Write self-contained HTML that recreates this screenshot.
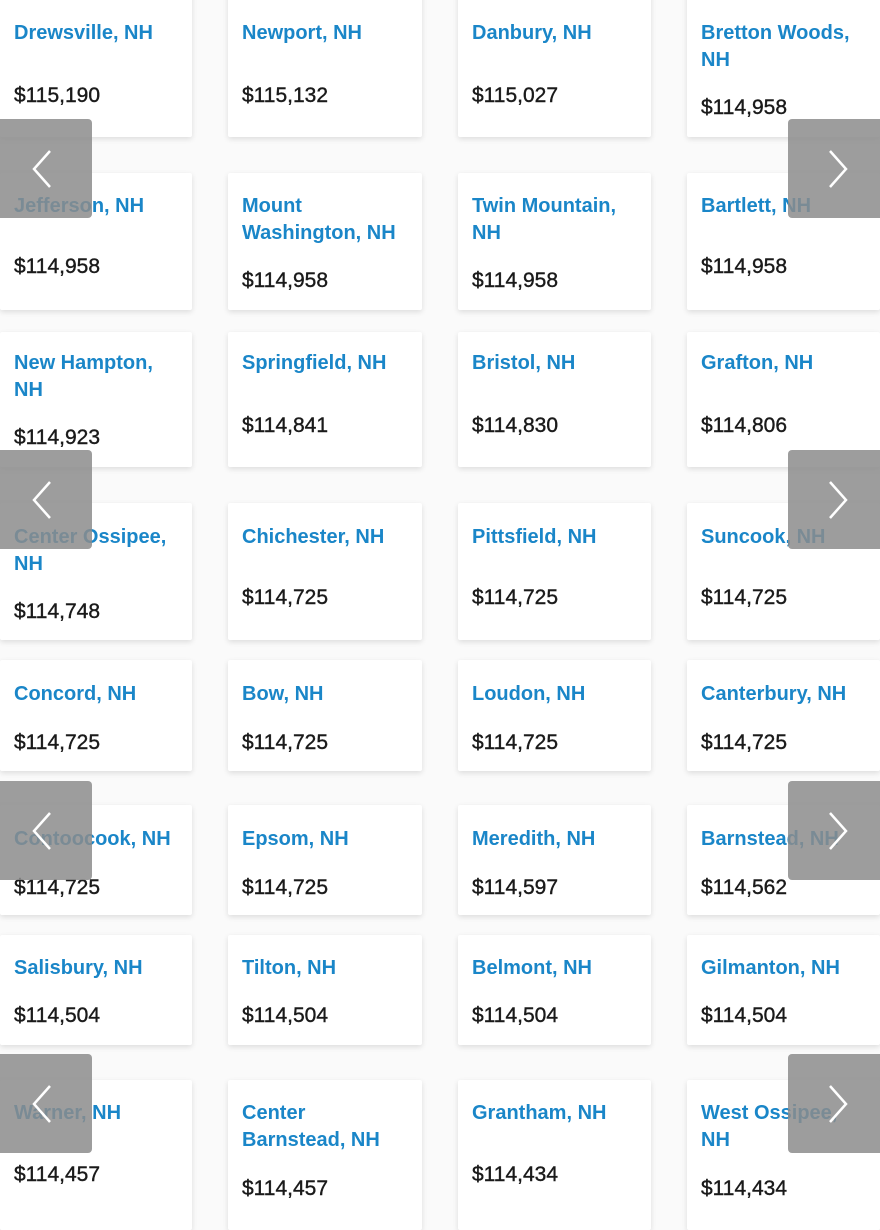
<!DOCTYPE html>
<html><head><style>
body{margin:0;width:880px;height:1218px;background:#fafafa;position:relative;overflow:hidden;font-family:"Liberation Sans",sans-serif}
.c{position:absolute;background:#fff;box-shadow:0 2px 6px rgba(0,0,0,.12);border-radius:2px}
.t{position:absolute;left:14px;color:#1a86c8;font-weight:bold;font-size:20px;line-height:27px;white-space:nowrap}
.p{position:absolute;left:14px;color:#1a1a1a;font-size:21px;line-height:24px;font-weight:normal;-webkit-text-stroke:0.4px #1a1a1a}
.b{position:absolute;width:92px;height:99px;background:rgba(140,140,140,.85)}
.b svg{position:absolute;left:30px;top:30px}
.l{left:0;border-radius:0 4px 4px 0}.r{left:788px;border-radius:4px 0 0 4px}
</style></head><body>
<div id="g"></div>
<script>
var X=[0,228,458,687],W=[192,194,193,193];
var rows=[
[-10,137,["Drewsville, NH","Newport, NH","Danbury, NH","Bretton Woods,<br>NH"],["$115,190","$115,132","$115,027","$114,958"]],
[173,310,["Jefferson, NH","Mount<br>Washington, NH","Twin Mountain,<br>NH","Bartlett, NH"],["$114,958","$114,958","$114,958","$114,958"]],
[332,467,["New Hampton,<br>NH","Springfield, NH","Bristol, NH","Grafton, NH"],["$114,923","$114,841","$114,830","$114,806"]],
[503,640,["Center Ossipee,<br>NH","Chichester, NH","Pittsfield, NH","Suncook, NH"],["$114,748","$114,725","$114,725","$114,725"]],
[660,771,["Concord, NH","Bow, NH","Loudon, NH","Canterbury, NH"],["$114,725","$114,725","$114,725","$114,725"]],
[805,915,["Contoocook, NH","Epsom, NH","Meredith, NH","Barnstead, NH"],["$114,725","$114,725","$114,597","$114,562"]],
[935,1045,["Salisbury, NH","Tilton, NH","Belmont, NH","Gilmanton, NH"],["$114,504","$114,504","$114,504","$114,504"]],
[1080,1230,["Warner, NH","Center<br>Barnstead, NH","Grantham, NH","West Ossipee,<br>NH"],["$114,457","$114,457","$114,434","$114,434"]]];
var tY=[32,205,362,536,693,838,967,1112],pY=[95,266,425,597,742,887,1015,1174];
var h="";
rows.forEach(function(r,i){
 for(var j=0;j<4;j++){
  var multi=r[2][j].indexOf("<br>")>=0;
  var py=pY[i]+(multi?(i==0||i==2?12:14):0);
  h+='<div class="c" style="left:'+X[j]+'px;top:'+r[0]+'px;width:'+W[j]+'px;height:'+(r[1]-r[0])+'px"></div>';
  h+='<div class="t" style="left:'+(X[j]+14)+'px;top:'+(tY[i]-12)+'px">'+r[2][j]+'</div>';
  h+='<div class="p" style="left:'+(X[j]+14)+'px;top:'+(py-11)+'px">'+r[3][j]+'</div>';
 }
});
[119,450,781,1054].forEach(function(y){
 h+='<div class="b l" style="top:'+y+'px"><svg width="24" height="40"><polyline points="20,2 4,20 20,38" fill="none" stroke="#fff" stroke-width="2.5"/></svg></div>';
 h+='<div class="b r" style="top:'+y+'px"><svg width="24" height="40" style="left:38px"><polyline points="4,2 20,20 4,38" fill="none" stroke="#fff" stroke-width="2.5"/></svg></div>';
});
document.getElementById("g").innerHTML=h;
</script>
</body></html>
